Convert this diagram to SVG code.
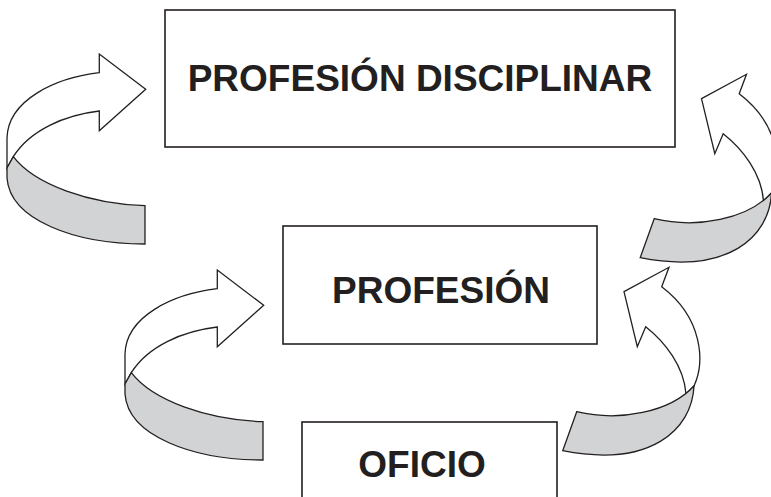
<svg xmlns="http://www.w3.org/2000/svg" xmlns:xlink="http://www.w3.org/1999/xlink" width="771" height="497" viewBox="0 0 771 497">
<style>
.box{fill:#fff;stroke:#231f20;stroke-width:1.6}
.lbl{font-family:"Liberation Sans",Arial,sans-serif;font-weight:bold;font-size:37px;fill:#231f20;text-anchor:middle}
.front{fill:#fff;stroke:#231f20;stroke-width:1.3;stroke-linejoin:miter}
.back{fill:#d1d3d4;stroke:#231f20;stroke-width:1.3;stroke-linejoin:miter}
</style>
<defs>
<g id="arrowL">
<path class="front" d="M145.7,89.3 L99.3,54 L99.3,72.7 C55,78 8,100 7,138 L7,168 L13.3,156.7 C30,130 65,115 99.3,111 L99.3,130.7 Z"/>
<path class="back" d="M13.3,156.7 C35,185 90,204 145,205.7 L145,244 C75,244 10,220 7,178 L7,168 Z"/>
</g>
<g id="arrowR">
<path class="front" d="M661.7,286.7 L669,267.3 L624,291.7 L637.3,346.7 L645.7,326.7 C665,342 684,366 686,394 L694,386 C705,362 703,318 661.7,286.7 Z"/>
<path class="back" d="M576.7,411.7 C620,422 670,412 694,386 C692,430 650,468 562.7,450.7 Z"/>
</g>
</defs>
<g id="connectors">
<use id="arrow-left-top" xlink:href="#arrowL"/>
<use id="arrow-left-mid" xlink:href="#arrowL" transform="translate(118,216)"/>
<use id="arrow-right-mid" xlink:href="#arrowR"/>
<use id="arrow-right-top" xlink:href="#arrowR" transform="translate(77.5,-193)"/>
</g>
<g id="node-disciplinar">
<rect class="box" x="165" y="10" width="510" height="137"/>
<text class="lbl" x="420" y="91">PROFESIÓN DISCIPLINAR</text>
</g>
<g id="node-profesion">
<rect class="box" x="283" y="226" width="314" height="118"/>
<text class="lbl" x="441" y="303">PROFESIÓN</text>
</g>
<g id="node-oficio">
<rect class="box" x="302" y="422" width="255" height="90"/>
<text class="lbl" x="422" y="477">OFICIO</text>
</g>
</svg>
